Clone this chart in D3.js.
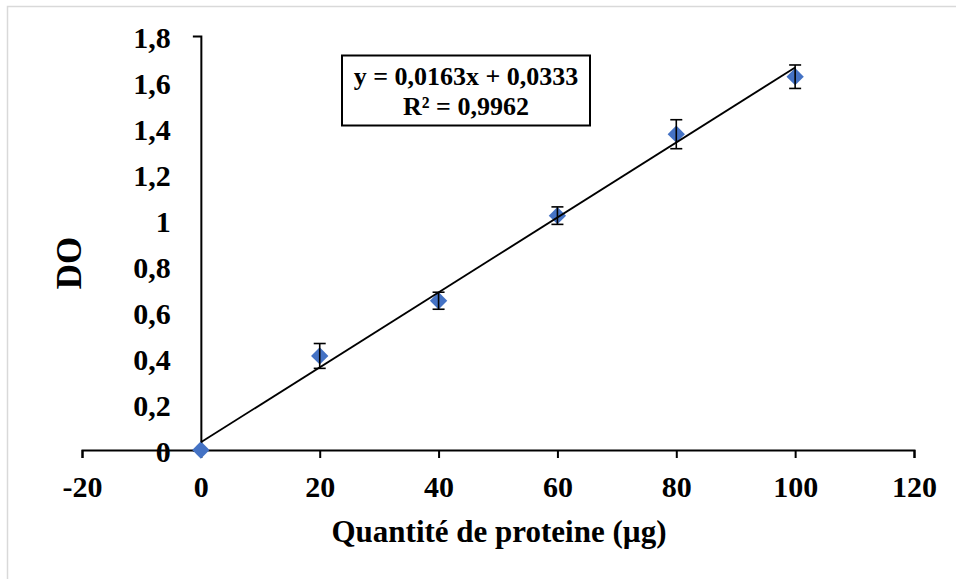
<!DOCTYPE html>
<html>
<head>
<meta charset="utf-8">
<script src="https://cdn.jsdelivr.net/npm/d3@7"></script>
<style>
  html, body { margin: 0; padding: 0; background: #fff; }
  svg { display: block; }
</style>
</head>
<body>
<svg id="chart" width="956" height="579"></svg>
<script>
// ---- data ----
const quantities = [0, 20, 40, 60, 80, 100];
const doValues   = [0, 0.409, 0.649, 1.019, 1.373, 1.623];
const errValues  = [0, 0.054, 0.037, 0.038, 0.063, 0.051];
const xTicks = [-20, 0, 20, 40, 60, 80, 100, 120];
const yTicks = [0, 0.2, 0.4, 0.6, 0.8, 1, 1.2, 1.4, 1.6, 1.8];
const trendSlope = 0.0163;
const trendIntercept = 0.0333;
const equationLines = ["y = 0,0163x + 0,0333", "R² = 0,9962"];
const xTitle = "Quantité de proteine (µg)";
const yTitle = "DO";

const FONT = "'Liberation Serif', 'Times New Roman', 'DejaVu Serif', serif";

const svg = d3.select("#chart");

function styleText(sel, size) {
  sel.attr("font-family", FONT)
     .attr("font-weight", "bold")
     .attr("font-size", size)
     .attr("fill", "#000")
     .style("font-family", FONT)
     .style("font-weight", "bold")
     .style("font-size", size + "px");
}

// outer chart-area border
svg.append("rect")
  .attr("x", 7.5).attr("y", 6.5)
  .attr("width", 1000).attr("height", 1000)
  .attr("fill", "none").attr("stroke", "#d9d9d9").attr("stroke-width", 1.5);

const x = d3.scaleLinear().domain([-20, 120]).range([82, 914]);
const y = d3.scaleLinear().domain([0, 1.8]).range([450, 36]);
const fmt = v => String(v).replace(".", ",");

// y axis
const yAxisG = svg.append("g")
  .attr("transform", `translate(${x(0)},0)`)
  .call(d3.axisLeft(y).tickValues(yTicks).tickFormat(fmt).tickSizeInner(0).tickSizeOuter(8));
yAxisG.select(".domain").attr("stroke", "#000").attr("stroke-width", 2);
yAxisG.selectAll("text").attr("x", -30).attr("dy", 0).attr("y", 11).call(styleText, 30);

// x axis
const xAxisG = svg.append("g")
  .attr("transform", `translate(0,${y(0)})`)
  .call(d3.axisBottom(x).tickValues(xTicks).tickFormat(fmt).tickSize(8).tickSizeOuter(8));
xAxisG.select(".domain").attr("stroke", "#000").attr("stroke-width", 2);
xAxisG.selectAll(".tick line").attr("stroke", "#000").attr("stroke-width", 2);
xAxisG.selectAll("text").attr("dy", 0).attr("y", 47).call(styleText, 30);

// markers
const pts = quantities.map((q, i) => ({ q, v: doValues[i], e: errValues[i] }));
svg.append("g").selectAll("path.pt")
  .data(pts).join("path")
  .attr("class", "pt")
  .attr("d", d3.symbol().type(d3.symbolSquare).size(150))
  .attr("transform", d => `translate(${x(d.q)},${y(d.v)}) rotate(45)`)
  .attr("fill", "#4472C4");

// error bars
const eb = svg.append("g").attr("stroke", "#000").attr("stroke-width", 1.6).attr("fill", "none");
pts.filter(d => d.e > 0).forEach(d => {
  const cx = x(d.q);
  eb.append("line").attr("x1", cx).attr("x2", cx).attr("y1", y(d.v + d.e)).attr("y2", y(d.v - d.e));
  eb.append("line").attr("x1", cx - 6).attr("x2", cx + 6).attr("y1", y(d.v + d.e)).attr("y2", y(d.v + d.e));
  eb.append("line").attr("x1", cx - 6).attr("x2", cx + 6).attr("y1", y(d.v - d.e)).attr("y2", y(d.v - d.e));
});

// trendline
const tx = [0, 100];
svg.append("line")
  .attr("x1", x(tx[0])).attr("y1", y(trendSlope * tx[0] + trendIntercept))
  .attr("x2", x(tx[1])).attr("y2", y(trendSlope * tx[1] + trendIntercept))
  .attr("stroke", "#000").attr("stroke-width", 1.8);

// equation box
svg.append("rect")
  .attr("x", 342).attr("y", 55.5).attr("width", 248).attr("height", 70)
  .attr("fill", "#fff").attr("stroke", "#000").attr("stroke-width", 2);
svg.append("g").selectAll("text").data(equationLines).join("text")
  .attr("x", 466).attr("y", (d, i) => 85 + i * 30)
  .attr("text-anchor", "middle")
  .call(styleText, 26)
  .text(d => d);

// axis titles
svg.append("text")
  .attr("x", 499).attr("y", 542)
  .attr("text-anchor", "middle")
  .call(styleText, 31)
  .text(xTitle);
svg.append("text")
  .attr("transform", "translate(81,263) rotate(-90)")
  .attr("text-anchor", "middle")
  .call(styleText, 35)
  .text(yTitle);
</script>
</body>
</html>
